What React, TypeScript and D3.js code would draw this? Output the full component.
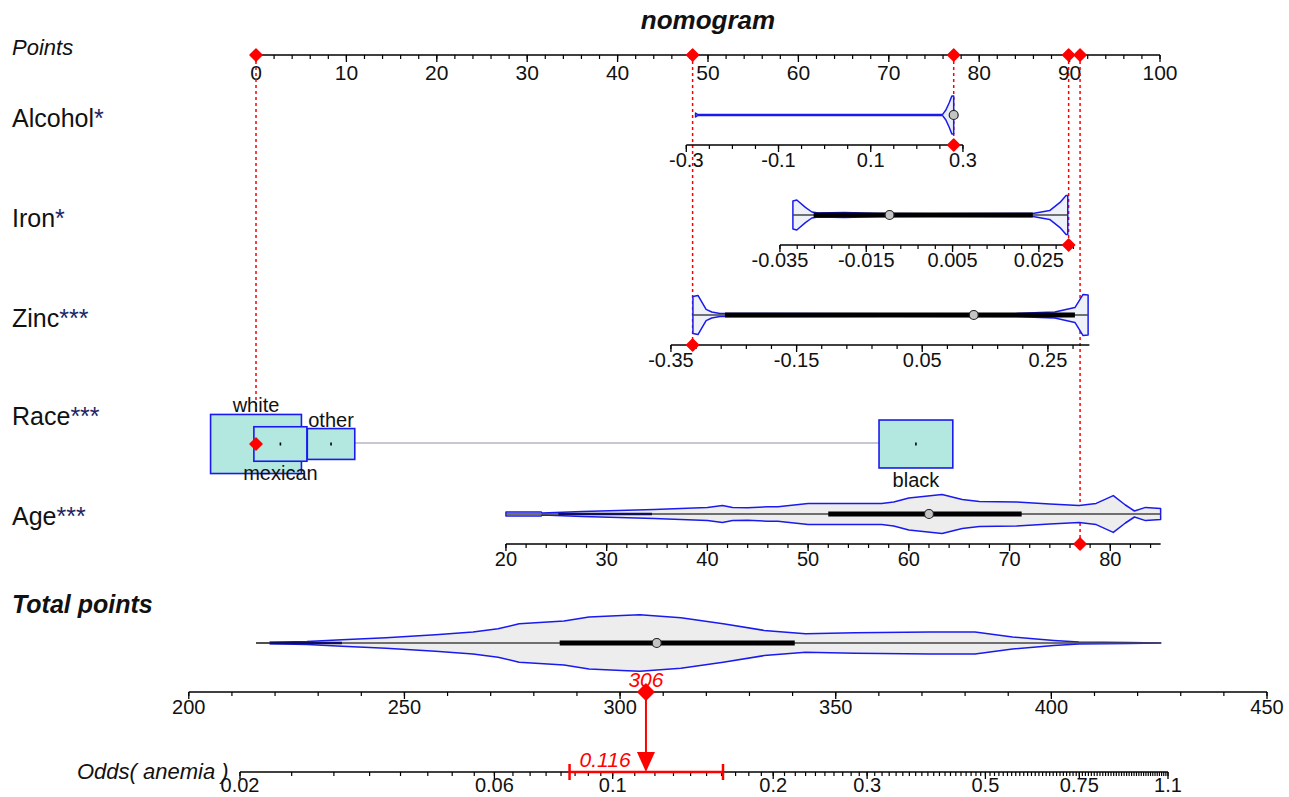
import React from 'react';
import * as d3 from 'd3';

// ---- data ----
const pointsTicks = [0, 10, 20, 30, 40, 50, 60, 70, 80, 90, 100];

// value -> points anchors for each continuous predictor
const alcoholDomain = [-0.3, 0.3];
const alcoholPoints = [47.6, 78.2];
const alcoholTicks = [-0.3, -0.1, 0.1, 0.3];
const alcoholSummary = [-0.28, 0.28, 0.28, 0.28, 0.28]; // min q1 med q3 max
const alcoholDensity = [
  [-0.28, 0.1], [-0.275, 0.02], [-0.2, 0.02], [0.0, 0.02], [0.2, 0.02], [0.256, 0.03],
  [0.263, 0.25], [0.27, 0.6], [0.276, 0.95], [0.28, 0.95],
];

const ironDomain = [-0.035, 0.025];
const ironPoints = [57.96, 86.6];
const ironTicks = [-0.035, -0.015, 0.005, 0.025];
const ironAxisEnds = [-0.035, 0.0318];
const ironSummary = [-0.032, -0.0272, -0.0096, 0.0236, 0.0317];
const ironDensity = [
  [-0.032, 0.7], [-0.0311, 0.75], [-0.0291, 0.38], [-0.0276, 0.15], [-0.0262, 0.1],
  [-0.02, 0.12], [-0.012, 0.08], [0.0, 0.06], [0.0236, 0.08], [0.0275, 0.22],
  [0.0299, 0.63], [0.0313, 0.97], [0.0317, 0.97],
];

const zincDomain = [-0.35, 0.25];
const zincPoints = [45.9, 87.6];
const zincTicks = [-0.35, -0.15, 0.05, 0.25];
const zincAxisEnds = [-0.35, 0.316];
const zincSummary = [-0.315, -0.264, 0.132, 0.293, 0.314];
const zincDensity = [
  [-0.315, 0.93], [-0.307, 0.98], [-0.294, 0.28], [-0.285, 0.15], [-0.272, 0.08],
  [0.0, 0.06], [0.2, 0.07], [0.238, 0.12], [0.261, 0.15], [0.293, 0.37],
  [0.306, 1.03], [0.314, 1.0],
];

const raceLevels = ['white', 'mexican', 'other', 'black'];
const racePoints = [0, 2.7, 8.3, 73.0];
const raceFreq = [0.44, 0.15, 0.12, 0.29];
const raceLabelSide = ['above', 'below', 'above', 'below'];

const ageDomain = [20, 80];
const agePoints = [27.65, 94.5];
const ageTicks = [20, 30, 40, 50, 60, 70, 80];
const ageAxisEnds = [20, 85];
const ageSummary = [20, 52, 62, 71.2, 85];
const ageTail = [25.2, 34.5];
const ageDensity = [
  [20, 0.1], [23.5, 0.1], [23.6, 0.05], [27.6, 0.12], [34.7, 0.23], [40, 0.33],
  [41.5, 0.43], [42.5, 0.33], [44, 0.31], [46, 0.36], [47, 0.36], [50, 0.53],
  [57.3, 0.53], [58.5, 0.6], [60, 0.8], [63.3, 0.98], [65.3, 0.73], [67, 0.62],
  [70.7, 0.6], [74, 0.5], [76.9, 0.43], [78.6, 0.53], [80.3, 0.92], [81.5, 0.45],
  [82.4, 0.15], [83.5, 0.33], [85, 0.28],
];

const totalTicks = [200, 250, 300, 350, 400, 450];
const totalSummary = [215.6, 286, 308.5, 340.5, 425.4];
const totalTail = [218.8, 235.5];
const totalDensity = [
  [218.8, 0.04], [227.4, 0.08], [235.5, 0.16], [245.7, 0.26],
  [257.2, 0.41], [265.9, 0.55], [271.7, 0.71], [276.6, 0.96], [287, 1.1],
  [292.8, 1.3], [300.4, 1.38], [304.6, 1.41], [314.1, 1.26], [323.9, 0.96],
  [333.4, 0.63], [343, 0.46], [354.5, 0.51], [371.9, 0.55], [382.3, 0.55],
  [391, 0.3], [400.6, 0.13], [406.4, 0.05], [417.8, 0.02], [425.4, 0],
];

const oddsTicks = [0.02, 0.06, 0.1, 0.2, 0.3, 0.5, 0.75, 1.1];
const oddsCI = [0.083, 0.161];

// the highlighted observation
const obsAlcohol = 0.28;
const obsIron = 0.0319;
const obsZinc = -0.3155;
const obsRace = 'white';
const obsAge = 77;
const obsTotal = 306;
const obsOdds = 0.116;

// ---- scales ----
const px = d3.scaleLinear().domain([0, 100]).range([256, 1160]);
const varScale = (dom: number[], pts: number[]) =>
  d3.scaleLinear().domain(dom).range(pts.map((p) => px(p)));
const xAlcohol = varScale(alcoholDomain, alcoholPoints);
const xIron = varScale(ironDomain, ironPoints);
const xZinc = varScale(zincDomain, zincPoints);
const xAge = varScale(ageDomain, agePoints);
const xTotal = d3.scaleLinear().domain([200, 450]).range([188.8, 1267]);
const xOdds = d3.scaleLog().domain([0.02, 1.1]).range([240, 1168]);
const dens = d3.scaleLinear().domain([0, 1]).range([0, 20]);
const boxW = d3.scaleSqrt().domain([0, 1]).range([0, 137]);

const FONT = '"Liberation Sans", Arial, sans-serif';
const RED = '#ff0000';
const BLUE = '#1a1aee';

function Axis({ scale, y, ticks, minor, ends, fmt, labelDy = 22, fontSize = 20 }: any) {
  const [a, b] = ends || scale.domain();
  return (
    <g>
      <line x1={scale(a)} x2={scale(b)} y1={y} y2={y} stroke="#000" strokeWidth={1.5} />
      {minor.map((t: number, i: number) => (
        <line key={'m' + i} x1={scale(t)} x2={scale(t)} y1={y} y2={y + 4} stroke="#000" strokeWidth={1.2} />
      ))}
      {ticks.map((t: number, i: number) => (
        <g key={'t' + i}>
          <line x1={scale(t)} x2={scale(t)} y1={y} y2={y + 7} stroke="#000" strokeWidth={1.3} />
          <text x={scale(t)} y={y + labelDy} textAnchor="middle" fontSize={fontSize} fill="#111">
            {fmt ? fmt(t) : String(t)}
          </text>
        </g>
      ))}
    </g>
  );
}

function Violin({ scale, y, density, summary, fill, tail, noLine }: any) {
  const area = d3
    .area<number[]>()
    .x((d) => scale(d[0]))
    .y0((d) => y + dens(d[1]))
    .y1((d) => y - dens(d[1]));
  const path = area(density) || '';
  const [mn, q1, med, q3, mx] = summary;
  return (
    <g>
      <path d={path} fill={fill} stroke={BLUE} strokeWidth={1.5} strokeLinejoin="round" />
      {!noLine && (
        <line x1={scale(mn)} x2={scale(mx)} y1={y} y2={y} stroke="#444" strokeWidth={1.5} />
      )}
      {tail && (
        <line x1={scale(tail[0])} x2={scale(tail[1])} y1={y} y2={y} stroke="#10105a" strokeWidth={2.5} />
      )}
      {q3 > q1 && (
        <line x1={scale(q1)} x2={scale(q3)} y1={y} y2={y} stroke="#000" strokeWidth={5} />
      )}
      <circle cx={scale(med)} cy={y} r={4.5} fill="#c4c4c4" stroke="#222" strokeWidth={1.2} />
    </g>
  );
}

// rounded-looking diamond (rotated square)
const diamond = (r: number) => `M0,${-r} L${r},0 L0,${r} L${-r},0 Z`;

function VarLabel({ y, name, stars }: any) {
  return (
    <text x={12} y={y} fontSize={25} fill="#111">
      {name}
      <tspan fill="#1c2566">{stars}</tspan>
    </text>
  );
}

export default function App() {
  const yP = 55;
  const rows = {
    alcohol: { v: 115, a: 145 },
    iron: { v: 215, a: 245 },
    zinc: { v: 315, a: 345 },
    race: 444,
    age: { v: 514, a: 544 },
    total: { v: 643, a: 692 },
    odds: 772,
  };

  const stepRange = (a: number, b: number, s: number) =>
    d3.range(Math.round((b - a) / s) + 1).map((i) => +(a + i * s).toFixed(6));

  const raceIdx = raceLevels.indexOf(obsRace);
  const obsMarks = [
    { x: xAlcohol(obsAlcohol), y: rows.alcohol.a },
    { x: xIron(obsIron), y: rows.iron.a },
    { x: xZinc(obsZinc), y: rows.zinc.a },
    { x: px(racePoints[raceIdx]), y: rows.race },
    { x: xAge(obsAge), y: rows.age.a },
  ];

  const tx = xTotal(obsTotal);
  const oddsMinor = [...stepRange(0.02, 0.1, 0.005), ...stepRange(0.11, 1.1, 0.01)];

  return (
    <svg
      width={1289}
      height={797}
      style={{ position: 'absolute', left: 0, top: 0, background: '#fff' }}
      fontFamily={FONT}
    >
      <rect width={1289} height={797} fill="#fff" />
      <text x={708} y={29} textAnchor="middle" fontSize={26} fontWeight="bold" fontStyle="italic" fill="#111">
        nomogram
      </text>

      {/* labels */}
      <text x={12} y={55} fontSize={22} fontStyle="italic" fill="#111">Points</text>
      <VarLabel y={127} name="Alcohol" stars="*" />
      <VarLabel y={227} name="Iron" stars="*" />
      <VarLabel y={327} name="Zinc" stars="***" />
      <VarLabel y={425} name="Race" stars="***" />
      <VarLabel y={525} name="Age" stars="***" />
      <text x={12} y={613} fontSize={25} fontWeight="bold" fontStyle="italic" fill="#111">Total points</text>
      <text x={77} y={779} fontSize={22} fontStyle="italic" fill="#111">Odds( anemia )</text>

      {/* points axis */}
      <Axis scale={px} y={yP} ticks={pointsTicks} minor={stepRange(0, 100, 2)} labelDy={25} fontSize={21} />

      {/* red dashed guides */}
      {obsMarks.map((m, i) => (
        <line key={'g' + i} x1={m.x} x2={m.x} y1={yP} y2={m.y} stroke={RED} strokeWidth={1.5} strokeDasharray="3,3" />
      ))}

      {/* alcohol */}
      <Violin scale={xAlcohol} y={rows.alcohol.v} density={alcoholDensity} summary={alcoholSummary} fill="#e9edf5" noLine />
      <Axis scale={xAlcohol} y={rows.alcohol.a} ticks={alcoholTicks} minor={stepRange(-0.3, 0.3, 0.05)} />

      {/* iron */}
      <Violin scale={xIron} y={rows.iron.v} density={ironDensity} summary={ironSummary} fill="#eef1f7" />
      <Axis scale={xIron} y={rows.iron.a} ticks={ironTicks} ends={ironAxisEnds} minor={stepRange(-0.035, 0.031, 0.004)} />

      {/* zinc */}
      <Violin scale={xZinc} y={rows.zinc.v} density={zincDensity} summary={zincSummary} fill="#eef1f7" />
      <Axis scale={xZinc} y={rows.zinc.a} ticks={zincTicks} ends={zincAxisEnds} minor={stepRange(-0.35, 0.29, 0.04)} />

      {/* race */}
      <line x1={px(racePoints[0])} x2={px(racePoints[3])} y1={rows.race - 1} y2={rows.race - 1} stroke="#b5b5c5" strokeWidth={1.5} />
      {raceLevels.map((lv, i) => {
        const w = boxW(raceFreq[i]);
        const h = w * 0.65;
        const cx = px(racePoints[i]);
        const above = raceLabelSide[i] === 'above';
        return (
          <g key={lv}>
            <rect x={cx - w / 2} y={rows.race - h / 2} width={w} height={h} fill="#b2e8df" stroke={BLUE} strokeWidth={1.6} />
            <rect x={cx - 0.8} y={rows.race - 1.5} width={1.6} height={3} fill="#000" />
            <text
              x={cx}
              y={above ? rows.race - h / 2 - 2 : rows.race + h / 2 + 19}
              textAnchor="middle"
              fontSize={20}
              fill="#111"
            >
              {lv}
            </text>
          </g>
        );
      })}

      {/* age */}
      <Violin scale={xAge} y={rows.age.v} density={ageDensity} summary={ageSummary} fill="#ededed" tail={ageTail} />
      <Axis scale={xAge} y={rows.age.a} ticks={ageTicks} ends={ageAxisEnds} minor={stepRange(20, 84, 2)} />

      {/* red dots */}
      {obsMarks.map((m, i) => (
        <g key={'d' + i}>
          <path d={diamond(6)} transform={`translate(${m.x},${yP})`} fill={RED} stroke={RED} strokeLinejoin="round" strokeWidth={1.5} />
          <path d={diamond(6)} transform={`translate(${m.x},${m.y})`} fill={RED} stroke={RED} strokeLinejoin="round" strokeWidth={1.5} />
        </g>
      ))}

      {/* total points */}
      <line x1={xTotal(totalSummary[0])} x2={xTotal(totalDensity[0][0])} y1={rows.total.v} y2={rows.total.v} stroke="#444" strokeWidth={1.5} />
      <Violin scale={xTotal} y={rows.total.v} density={totalDensity} summary={totalSummary} fill="#ededed" tail={totalTail} />
      <Axis scale={xTotal} y={rows.total.a} ticks={totalTicks} minor={stepRange(200, 450, 10)} />

      {/* odds */}
      <Axis scale={xOdds} y={rows.odds} ticks={oddsTicks} minor={oddsMinor} labelDy={20} />
      <line x1={xOdds(oddsCI[0])} x2={xOdds(oddsCI[1])} y1={rows.odds} y2={rows.odds} stroke={RED} strokeWidth={2.5} />
      {oddsCI.map((c, i) => (
        <line key={'ci' + i} x1={xOdds(c)} x2={xOdds(c)} y1={rows.odds - 8} y2={rows.odds + 8} stroke={RED} strokeWidth={2.5} />
      ))}

      {/* total -> odds arrow */}
      <line x1={tx} x2={tx} y1={rows.total.a} y2={rows.odds - 16} stroke={RED} strokeWidth={2} />
      <path d={`M${tx - 9},${rows.odds - 20} L${tx + 9},${rows.odds - 20} L${tx},${rows.odds} Z`} fill={RED} />
      <path d={diamond(8)} transform={`translate(${tx},${rows.total.a})`} fill={RED} stroke={RED} strokeLinejoin="round" strokeWidth={1.5} />
      <text x={tx} y={rows.total.a - 5} textAnchor="middle" fontSize={21} fontStyle="italic" fill={RED}>
        {obsTotal}
      </text>
      <text x={xOdds(obsOdds) - 42} y={rows.odds - 5} textAnchor="middle" fontSize={21} fontStyle="italic" fill={RED}>
        {obsOdds}
      </text>
    </svg>
  );
}
